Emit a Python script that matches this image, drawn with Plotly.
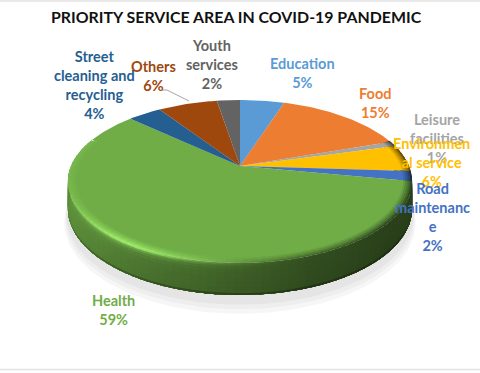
import numpy as np
import plotly.graph_objects as go

title = "PRIORITY SERVICE AREA IN COVID-19 PANDEMIC"
categories = ["Education", "Food", "Leisure facilities", "Environmental service",
              "Road maintenance", "Health", "Street cleaning and recycling", "Others", "Youth services"]
shares = [5.0, 14.7, 1.0, 5.3, 2.0, 58.9, 3.8, 6.7, 2.6]
percent_labels = ["5%", "15%", "1%", "6%", "2%", "59%", "4%", "6%", "2%"]
label_lines = ["Education", "Food", "Leisure<br>facilities", "Environmen<br>al service",
               "Road<br>maintenanc<br>e", "Health", "Street<br>cleaning and<br>recycling", "Others", "Youth<br>services"]
colors = ["#5B9BD5", "#ED7D31", "#A5A5A5", "#FFC000", "#4472C4", "#70AD47", "#255E91", "#9E480E", "#636363"]
label_x = [302, 375, 437, 431, 432, 113, 94, 153, 212]
label_y = [73, 103, 138, 162, 217, 310, 85, 76, 64]

CX, CY, R, H, K, DEPTH = 240.0, 166.0, 169.0, 78.5, 0.19, 26.0
WALL_FROM, WALL_TO = 70.0, 290.0


def project(theta, radius=1.0, drop=0.0):
    u = radius * np.sin(theta)
    v = -radius * np.cos(theta)
    s = 1.0 / (1.0 - K * v)
    return CX + R * u * s, CY + (H * v + drop) * s


def mix(a, b, t):
    return a + (b - a) * t


def rgb(hexcode):
    return np.array([int(hexcode[i:i + 2], 16) for i in (1, 3, 5)], dtype=float)


def css(c):
    c = np.clip(c, 0, 255).round().astype(int)
    return f"rgb({c[0]},{c[1]},{c[2]})"


def wall_shade(deg):
    return np.interp(deg, [70, 130, 160, 180, 200, 225, 245, 290], [.38, .38, .45, .55, .65, .78, .85, .88])


def edge_shade(deg):
    return np.interp(deg, [70, 130, 165, 195, 290], [.42, .42, .62, 1.0, 1.08])


def highlight(deg):
    return np.exp(-((deg - 215) / 26.0) ** 2)


def poly(fig, x, y, col):
    fig.add_trace(go.Scatter(x=x, y=y, mode="lines", fill="toself", fillcolor=col,
                             line=dict(width=0), hoverinfo="skip"))


fig = go.Figure()

# soft drop shadow under the disc
th = np.linspace(0, 2 * np.pi, 181)
for extra, drop, gray in [(1.02, 39, "#F6F6F6"), (1.014, 36, "#EEEEEE"), (1.008, 33, "#E5E5E5")]:
    x, y = project(th, extra, drop)
    poly(fig, x, y, gray)

edges = np.cumsum([0.0] + shares) / sum(shares) * 2 * np.pi
wall_drops = [0, 1.5, 3, 5, 8, 12, 16, 20, 22.5, 24.5]
bevel_radii = [1.0, 0.99, 0.98, 0.97, 0.96, 0.95, 0.94]
PAD = np.radians(0.8)

# side wall: each band reaches the lower edge, so later bands cover earlier seams
for start, end, col in zip(edges[:-1], edges[1:], colors):
    lo, hi = max(start, np.radians(WALL_FROM)), min(end, np.radians(WALL_TO))
    if hi <= lo:
        continue
    steps = np.linspace(lo, hi, max(2, int((hi - lo) / np.radians(2.5))) + 1)
    base = rgb(col)
    light = np.minimum(base * 1.3 + 10, 255)
    for d in wall_drops:
        f = d / DEPTH
        for a, b in zip(steps[:-1], steps[1:]):
            deg = np.degrees((a + b) / 2)
            c = base * wall_shade(deg) * mix(1.0, .93, f)
            c = mix(c, light, highlight(deg) * np.exp(-f * 14.0) * .95)
            if f > .9:
                c = c * mix(.9, .72, np.clip((300 - deg) / 120, 0, 1))
            arc = np.array([a, b + PAD])
            x0, y0 = project(arc, 1.0, d)
            x1, y1 = project(arc[::-1], 1.0, DEPTH)
            poly(fig, np.r_[x0, x1, x0[0]], np.r_[y0, y1, y0[0]], css(c))

# rounded bevel on the top face, painted from the rim inward
for start, end, col in zip(edges[:-1], edges[1:], colors):
    lo, hi = max(start, np.radians(WALL_FROM)), min(end, np.radians(WALL_TO))
    if hi <= lo:
        continue
    steps = np.linspace(lo, hi, max(2, int((hi - lo) / np.radians(2.5))) + 1)
    base = rgb(col)
    light = np.minimum(base * 1.3 + 10, 255)
    for k, r in enumerate(bevel_radii[:-1]):
        t = k / (len(bevel_radii) - 2)
        for a, b in zip(steps[:-1], steps[1:]):
            deg = np.degrees((a + b) / 2)
            rim = base * edge_shade(deg)
            rim = mix(rim, light, highlight(deg) * .9)
            c = mix(rim, base, t ** 0.8)
            arc = np.array([a, min(b + PAD, hi)])
            x0, y0 = project(arc, r)
            x1, y1 = project(arc[::-1], 0.93)
            poly(fig, np.r_[x0, x1, x0[0]], np.r_[y0, y1, y0[0]], css(c))

# top faces of the slices
for start, end, col in zip(edges[:-1], edges[1:], colors):
    t = np.linspace(start, end, max(3, int(np.degrees(end - start))))
    radii = np.where((t > np.radians(WALL_FROM)) & (t < np.radians(WALL_TO)), 0.941, 1.0)
    x, y = project(t, radii)
    poly(fig, np.r_[CX, x, CX], np.r_[CY, y, CY], col)

annotations = [dict(x=236, y=16, text=f"<b>{title}</b>", showarrow=False,
                    font=dict(family="Lato", size=15.9, color="#111111"))]
for name, pct, col, lx, ly in zip(label_lines, percent_labels, colors, label_x, label_y):
    annotations.append(dict(x=lx, y=ly, text=f"<b>{name}<br>{pct}</b>", showarrow=False, align="center",
                            font=dict(family="Lato", size=14.5, color=col)))

fig.update_layout(
    width=480, height=373, margin=dict(l=0, r=0, t=0, b=0), showlegend=False,
    paper_bgcolor="white", plot_bgcolor="white",
    xaxis=dict(range=[0, 480], visible=False, fixedrange=True),
    yaxis=dict(range=[373, 0], visible=False, fixedrange=True),
    annotations=annotations,
    shapes=[
        dict(type="path", path="M 162 90 L 167 90 L 189 101", line=dict(color="#A6A6A6", width=1)),
        dict(type="line", x0=0, x1=480, y0=1, y1=1, line=dict(color="#E2E2E2", width=1.5)),
        dict(type="line", x0=0, x1=480, y0=369.5, y1=369.5, line=dict(color="#E2E2E2", width=1.5)),
    ],
)
fig.write_html("out.html", config=dict(displayModeBar=False),
               post_script="document.body.style.margin='0';document.body.style.overflow='hidden';window.dispatchEvent(new Event('resize'));")
